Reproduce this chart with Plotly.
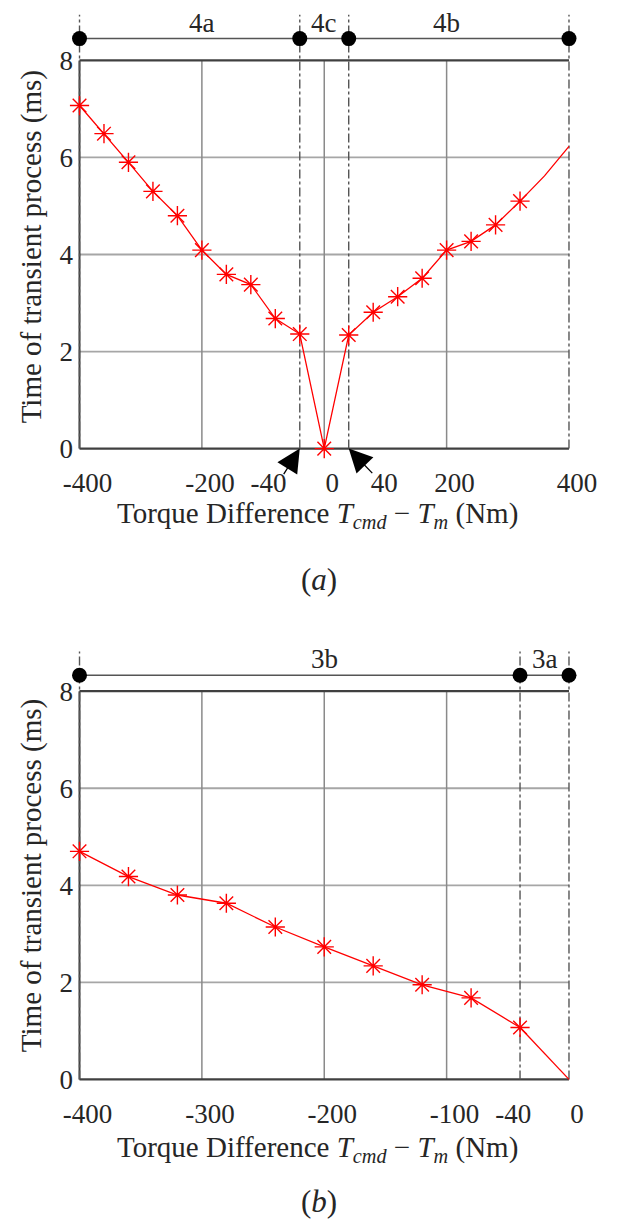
import plotly.graph_objects as go

# ---------------- data ----------------
# panel (a)
torque_a = [-400, -360, -320, -280, -240, -200, -160, -120, -80, -40, 0,
            40, 80, 120, 160, 200, 240, 280, 320]
time_a = [7.07, 6.49, 5.90, 5.30, 4.80, 4.09, 3.59, 3.38, 2.68, 2.36, 0.0,
          2.34, 2.81, 3.13, 3.51, 4.09, 4.27, 4.61, 5.10]
torque_a_tail = [320, 360, 400]
time_a_tail = [5.10, 5.62, 6.23]

# panel (b)
torque_b = [-400, -360, -320, -280, -240, -200, -160, -120, -80, -40]
time_b = [4.70, 4.18, 3.80, 3.63, 3.14, 2.73, 2.34, 1.95, 1.68, 1.07]
torque_b_tail = [-40, 0]
time_b_tail = [1.07, 0.0]

# region boundaries / labels
bounds_a = [-400, -40, 40, 400]
region_text_a = ["4a", "4c", "4b"]
region_x_a = [-200, 0, 200]
bounds_b = [-400, -40, 0]
region_text_b = ["3b", "3a"]
region_x_b = [-200, -20]

# ticks
xtick_vals_a = [-400, -200, -104, 0, 85, 200, 400]
xtick_text_a = ["-400", "-200", "-40", "0", "40", "200", "400"]
xgrid_a = [-200, 0, 200]
xtick_vals_b = [-400, -300, -200, -100, -52, 0]
xtick_text_b = ["-400", "-300", "-200", "-100", "-40", "0"]
xgrid_b = [-300, -200, -100]
ytick_vals = [0, 2, 4, 6, 8]
ytick_text = ["0", "2", "4", "6", "8"]
ygrid = [2, 4, 6]

# ---------------- layout helpers ----------------
W, H = 624, 1232
FONT = "Liberation Serif"
TXT = "#262626"
RED = "#ff0000"
AXC = "#404040"
GRIDV = "#8a8a8a"
GRIDH = "#a6a6a6"
DASHC = "#555555"

def py(pix):
    return 1 - pix / H

fig = go.Figure()

# ---- main curves ----
fig.add_trace(go.Scatter(x=torque_a, y=time_a, mode="lines+markers",
                         line=dict(color=RED, width=1.3),
                         marker=dict(symbol="asterisk-open", size=16,
                                     line=dict(color=RED, width=1.4)),
                         cliponaxis=False, xaxis="x", yaxis="y"))
fig.add_trace(go.Scatter(x=torque_a_tail, y=time_a_tail, mode="lines",
                         line=dict(color=RED, width=1.3),
                         cliponaxis=False, xaxis="x", yaxis="y"))
fig.add_trace(go.Scatter(x=torque_b, y=time_b, mode="lines+markers",
                         line=dict(color=RED, width=1.3),
                         marker=dict(symbol="asterisk-open", size=16,
                                     line=dict(color=RED, width=1.4)),
                         cliponaxis=False, xaxis="x2", yaxis="y2"))
fig.add_trace(go.Scatter(x=torque_b_tail, y=time_b_tail, mode="lines",
                         line=dict(color=RED, width=1.3),
                         cliponaxis=False, xaxis="x2", yaxis="y2"))

# ---- region bars (dots + connecting line) ----
DOT_Y_A = 8.45
DOT_Y_B = 8.33
fig.add_trace(go.Scatter(x=bounds_a, y=[DOT_Y_A] * len(bounds_a), mode="lines+markers",
                         line=dict(color="#555555", width=1.5),
                         marker=dict(symbol="circle", size=15, color="black"),
                         cliponaxis=False, xaxis="x", yaxis="y"))
fig.add_trace(go.Scatter(x=bounds_b, y=[DOT_Y_B] * len(bounds_b), mode="lines+markers",
                         line=dict(color="#555555", width=1.5),
                         marker=dict(symbol="circle", size=15, color="black"),
                         cliponaxis=False, xaxis="x2", yaxis="y2"))

shapes = []
def panel_shapes(xr, yr, xmin, xmax, xgrid, bounds, dash_top):
    # grid
    for g in ygrid:
        shapes.append(dict(type="line", xref=xr, yref=yr, x0=xmin, x1=xmax, y0=g, y1=g,
                           line=dict(color=GRIDH, width=1.8), layer="below"))
    for g in xgrid:
        shapes.append(dict(type="line", xref=xr, yref=yr, x0=g, x1=g, y0=0, y1=8,
                           line=dict(color=GRIDV, width=1.5), layer="below"))
    # axes box (left, bottom, top)
    shapes.append(dict(type="line", xref=xr, yref=yr, x0=xmin, x1=xmax, y0=0, y1=0,
                       line=dict(color=AXC, width=2.2), layer="below"))
    shapes.append(dict(type="line", xref=xr, yref=yr, x0=xmin, x1=xmax, y0=8, y1=8,
                       line=dict(color=AXC, width=2.2), layer="below"))
    shapes.append(dict(type="line", xref=xr, yref=yr, x0=xmin, x1=xmin, y0=0, y1=8,
                       line=dict(color=AXC, width=2.0), layer="below"))
    # dash-dot region boundaries
    for b in bounds:
        shapes.append(dict(type="line", xref=xr, yref=yr, x0=b, x1=b, y0=0, y1=dash_top,
                           line=dict(color=DASHC, width=1.4, dash="dashdot"), layer="below"))

panel_shapes("x", "y", -400, 400, xgrid_a, bounds_a, 8.94)
panel_shapes("x2", "y2", -400, 0, xgrid_b, bounds_b, 8.82)

annotations = []
# region labels
for t, xv in zip(region_text_a, region_x_a):
    annotations.append(dict(x=xv, y=8.78, xref="x", yref="y", text=t, showarrow=False,
                            font=dict(family=FONT, size=27, color=TXT)))
for t, xv in zip(region_text_b, region_x_b):
    annotations.append(dict(x=xv, y=8.67, xref="x2", yref="y2", text=t, showarrow=False,
                            font=dict(family=FONT, size=27, color=TXT)))

# arrows pointing to +-40 boundaries
annotations.append(dict(x=-40, y=0, xref="x", yref="y", text="", showarrow=True,
                        arrowhead=2, arrowsize=3.6, arrowwidth=1.3, arrowcolor="black",
                        ax=-17, ay=27, standoff=0))
annotations.append(dict(x=40, y=0, xref="x", yref="y", text="", showarrow=True,
                        arrowhead=2, arrowsize=3.6, arrowwidth=1.3, arrowcolor="black",
                        ax=25, ay=26, standoff=0))

XTITLE = ("Torque Difference <i>T</i><sub><i>cmd</i></sub> \u2212 <i>T</i><sub><i>m</i></sub> (Nm)")
YTITLE = "Time of transient process (ms)"
for yc in (520, 1160):
    annotations.append(dict(x=324 / W, y=py(yc), xref="paper", yref="paper", text=XTITLE,
                            showarrow=False, xanchor="center", yanchor="middle",
                            font=dict(family=FONT, size=29, color=TXT)))
for yc in (249, 884):
    annotations.append(dict(x=19 / W, y=py(yc), xref="paper", yref="paper", text=YTITLE,
                            showarrow=False, xanchor="center", yanchor="middle", textangle=-90,
                            font=dict(family=FONT, size=29, color=TXT)))
for yc, t in ((585, "(<i>a</i>)"), (1213, "(<i>b</i>)")):
    annotations.append(dict(x=326 / W, y=py(yc), xref="paper", yref="paper", text=t,
                            showarrow=False, xanchor="center", yanchor="middle",
                            font=dict(family=FONT, size=31, color=TXT)))

# axis geometry: -400 -> 70px, right end -> 593px; y 0/8 mapped per panel
xl, xr_ = 70 - 4 * 523 / 800, 593 + 4 * 523 / 800
xl2, xr2 = 70 - 2 * 523 / 400, 593 + 2 * 523 / 400
pad = 0.08 * 49

common_x = dict(showgrid=False, zeroline=False, showline=False, ticks="",
                tickfont=dict(family=FONT, size=27, color=TXT), ticklabelshift=8,
                ticklabelstandoff=12)
common_y = dict(showgrid=False, zeroline=False, showline=False, ticks="",
                tickvals=ytick_vals, ticktext=ytick_text, ticklabelstandoff=3,
                tickfont=dict(family=FONT, size=27, color=TXT))

fig.update_layout(
    width=W, height=H, margin=dict(l=0, r=0, t=0, b=0),
    paper_bgcolor="white", plot_bgcolor="white", showlegend=False,
    xaxis=dict(domain=[xl / W, xr_ / W], range=[-404, 404], anchor="y",
               tickvals=xtick_vals_a, ticktext=xtick_text_a, **common_x),
    yaxis=dict(domain=[py(453 + pad), py(12)], range=[-0.08, 9], anchor="x", **common_y),
    xaxis2=dict(domain=[xl2 / W, xr2 / W], range=[-402, 2], anchor="y2",
                tickvals=xtick_vals_b, ticktext=xtick_text_b, **common_x),
    yaxis2=dict(domain=[py(1090 + pad), py(649)], range=[-0.08, 9], anchor="x2", **common_y),
    shapes=shapes, annotations=annotations,
)

fig.write_html("out.html")
